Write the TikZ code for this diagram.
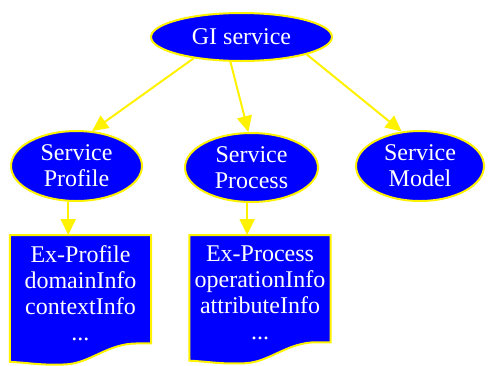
\documentclass[tikz,border=0pt]{standalone}
\usepackage{fontspec}
\setmainfont{Liberation Serif}
\usetikzlibrary{shapes,arrows.meta,positioning,backgrounds}

% outline of a document box with a wavy foot
\newcommand{\docoutline}[1]{%
	\filldraw[docline] (#1.north west) -- (#1.north east) -- ([yshift=8.4pt]#1.south east)
		-- ++(-14,0) .. controls +(-30,0) and +(25,1) .. ++(-72,-21)
		.. controls +(-25,-1) and +(20,-1) .. ([yshift=-10pt]#1.south west) -- cycle;}

\begin{document}
\begin{tikzpicture}[
			x=1pt, y=1pt,
			svc/.style={ellipse, draw=yellow, fill=blue, line width=2pt, inner sep=0pt, text=white, align=center, font=\fontsize{24}{26}\selectfont},
			doc/.style={anchor=north, minimum width=141pt, inner ysep=10.6pt, text=white, align=center, font=\fontsize{24}{26}\selectfont},
			docline/.style={draw=yellow, fill=blue, line width=2pt},
			link/.style={draw=yellow, line width=2pt, -{Triangle[length=16pt,width=15pt]}}
		]
		\useasboundingbox (0,0) rectangle (488,-365);
		\clip (0,0) rectangle (488,-365);

		\node[svc, minimum width=181pt, minimum height=48pt] (GI) at (241.5,-37) {GI service};
		\node[svc, minimum width=131pt, minimum height=70pt] (SP) at (76.5,-166) {Service\\Profile};
		\node[svc, minimum width=133pt, minimum height=69pt] (SPr) at (251.5,-167.5) {Service\\Process};
		\node[svc, minimum width=128pt, minimum height=70pt] (SM) at (420,-166) {Service\\Model};

		\node[doc] (ExP) [below=33pt of SP, xshift=4pt] {Ex-Profile\\domainInfo\\contextInfo\\...};
		\node[doc] (ExPr) [below=32pt of SPr, xshift=8.5pt] {Ex-Process\\operationInfo\\attributeInfo\\...};

		\begin{scope}[on background layer]
			\docoutline{ExP}
			\docoutline{ExPr}
		\end{scope}

		\draw[link] (GI.204.7) -- (SP.66.5);
		\draw[link] (GI.246.1) -- (SPr.95.3);
		\draw[link] (GI.345.2) -- (SM.118.4);
		\draw[link] (SP.257) -- (SP.257 |- ExP.north);
		\draw[link] (SPr.263) -- (SPr.263 |- ExPr.north);
	\end{tikzpicture}
\end{document}
